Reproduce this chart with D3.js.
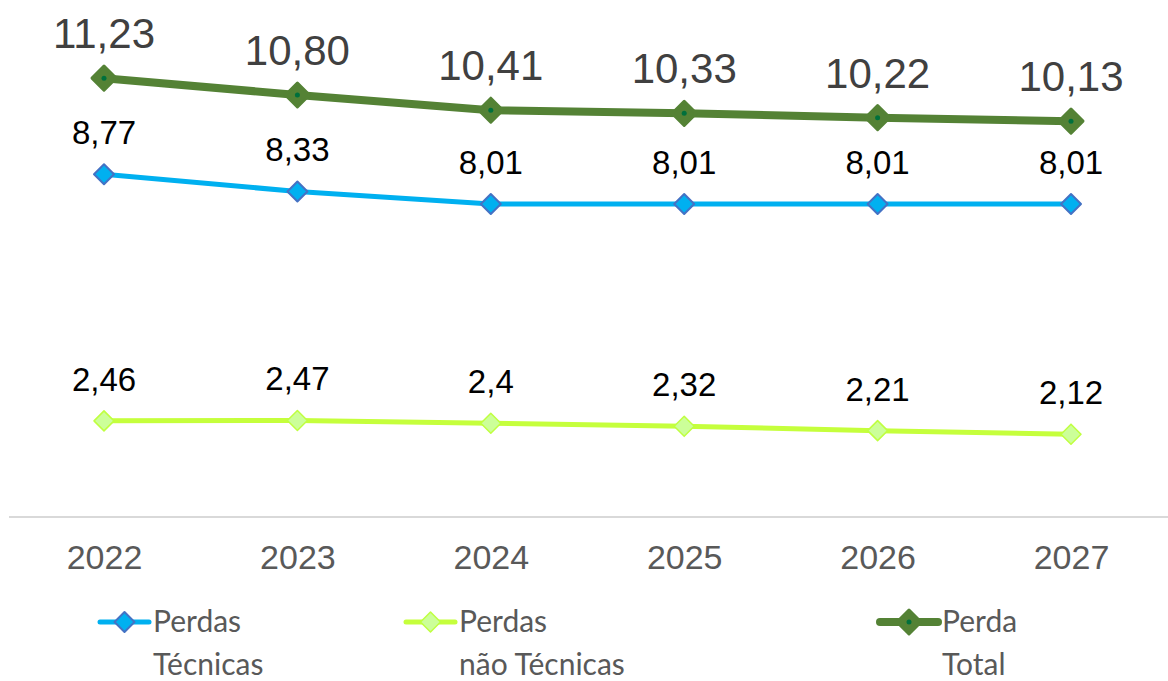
<!DOCTYPE html>
<html>
<head>
<meta charset="utf-8">
<script src="https://cdn.jsdelivr.net/npm/d3@7"></script>
<style>
  html, body { margin: 0; padding: 0; background: #fff; }
  svg { display: block; }
</style>
</head>
<body>
<svg id="chart" width="1168" height="681"></svg>
<script>
// ---- data ----
const years = ["2022", "2023", "2024", "2025", "2026", "2027"];
const perdasTecnicas = [8.77, 8.33, 8.01, 8.01, 8.01, 8.01];
const perdasNaoTecnicas = [2.46, 2.47, 2.4, 2.32, 2.21, 2.12];
const perdaTotal = [11.23, 10.80, 10.41, 10.33, 10.22, 10.13];
const labelsTecnicas = ["8,77", "8,33", "8,01", "8,01", "8,01", "8,01"];
const labelsNaoTecnicas = ["2,46", "2,47", "2,4", "2,32", "2,21", "2,12"];
const labelsTotal = ["11,23", "10,80", "10,41", "10,33", "10,22", "10,13"];
const legendNames = [["Perdas", "Técnicas"], ["Perdas", "não Técnicas"], ["Perda", "Total"]];

const series = [
  { name: legendNames[1], values: perdasNaoTecnicas, labels: labelsNaoTecnicas,
    line: "#C5FF3C", lw: 5, fill: "#CCFF99", stroke: "#BFFF40", r: 10, sw: 1.5, dot: null,
    lblColor: "#000", lblSize: 33, legX: 406 },
  { name: legendNames[0], values: perdasTecnicas, labels: labelsTecnicas,
    line: "#00B0F0", lw: 5, fill: "#00B0F0", stroke: "#4472C4", r: 10, sw: 2, dot: null,
    lblColor: "#000", lblSize: 33, legX: 100 },
  { name: legendNames[2], values: perdaTotal, labels: labelsTotal,
    line: "#548235", lw: 8, fill: "#548235", stroke: "#548235", r: 12, sw: 3, dot: "#00703C",
    lblColor: "#404040", lblSize: 42, legX: 880 }
];

const svg = d3.select("#chart");

const x = d3.scalePoint().domain(years).range([104, 1071]);
const y = d3.scaleLinear().domain([0, 13]).range([517, 9]);

// axis line
const xAxis = d3.axisBottom(x).tickSize(0).tickPadding(28);
const gx = svg.append("g").attr("transform", "translate(0,517)").call(xAxis);
gx.select(".domain").remove();
gx.append("line").attr("x1", 9).attr("x2", 1168).attr("y1", 0).attr("y2", 0)
  .attr("stroke", "#D9D9D9").attr("stroke-width", 2);
gx.selectAll(".tick text")
  .attr("fill", "#595959")
  .attr("font-family", "'Liberation Sans Narrow', 'Liberation Sans', sans-serif")
  .attr("font-size", 34);

const diamond = (r) => `M0,${-r}L${r},0L0,${r}L${-r},0Z`;

const line = d3.line().x((d, i) => x(years[i])).y(d => y(d));

series.forEach(s => {
  const g = svg.append("g");
  g.append("path").datum(s.values)
    .attr("d", line)
    .attr("fill", "none")
    .attr("stroke", s.line)
    .attr("stroke-width", s.lw)
    .attr("stroke-linejoin", "round");
  const m = g.selectAll(".m").data(s.values).enter().append("g")
    .attr("transform", (d, i) => `translate(${x(years[i])},${y(d)})`);
  m.append("path").attr("d", diamond(s.r))
    .attr("fill", s.fill).attr("stroke", s.stroke).attr("stroke-width", s.sw)
    .attr("stroke-linejoin", "round");
  if (s.dot) m.append("circle").attr("r", 2.5).attr("fill", s.dot);
  g.selectAll(".lbl").data(s.values).enter().append("text")
    .attr("x", (d, i) => x(years[i]))
    .attr("y", d => y(d) - 30)
    .attr("text-anchor", "middle")
    .attr("font-family", "'Liberation Sans', Arial, sans-serif")
    .attr("font-size", s.lblSize)
    .attr("fill", s.lblColor)
    .text((d, i) => s.labels[i]);

  // legend
  const lg = svg.append("g").attr("transform", `translate(${s.legX},622)`);
  const lw = s.legX === 880 ? 58 : 49;
  lg.append("line").attr("x1", 0).attr("x2", lw).attr("y1", 0).attr("y2", 0)
    .attr("stroke", s.line).attr("stroke-width", s.lw).attr("stroke-linecap", "round");
  const mg = lg.append("g").attr("transform", `translate(${lw / 2},0)`);
  mg.append("path").attr("d", diamond(s.r))
    .attr("fill", s.fill).attr("stroke", s.stroke).attr("stroke-width", s.sw)
    .attr("stroke-linejoin", "round");
  if (s.dot) mg.append("circle").attr("r", 2.5).attr("fill", s.dot);
  const t = lg.append("text")
    .attr("x", lw + 4)
    .attr("y", 10)
    .attr("font-family", "Lato, 'Open Sans', sans-serif")
    .attr("font-size", 30)
    .attr("fill", "#595959");
  t.selectAll("tspan").data(s.name).enter().append("tspan")
    .attr("x", lw + 4)
    .attr("dy", (d, i) => i === 0 ? 0 : 43)
    .text(d => d);
});
</script>
</body>
</html>
